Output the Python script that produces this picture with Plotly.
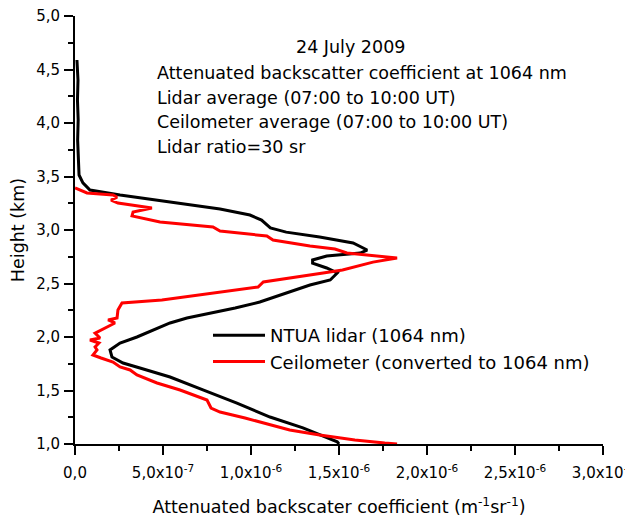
import plotly.graph_objects as go

# NTUA lidar (1064 nm): height (km) and attenuated backscatter (m^-1 sr^-1)
lidar_height = [4.589, 4.40, 4.215, 4.03, 3.84, 3.68, 3.514, 3.44, 3.374, 3.327, 3.262, 3.196,
                3.14, 3.093, 3.019, 2.98, 2.935, 2.879, 2.813, 2.785, 2.757, 2.72, 2.69, 2.645,
                2.598, 2.533, 2.486, 2.411, 2.327, 2.271, 2.224, 2.178, 2.131, 2.065, 2.0,
                1.944, 1.879, 1.813, 1.757, 1.71, 1.626, 1.505, 1.383, 1.252, 1.15, 1.02, 1.0]
lidar_beta = [0.11e-7, 0.17e-7, 0.14e-7, 0.18e-7, 0.15e-7, 0.2e-7, 0.23e-7, 0.45e-7, 0.85e-7,
              2.56e-7, 5.4e-7, 8.24e-7, 9.94e-7, 10.6e-7, 11.1e-7, 12.0e-7, 13.9e-7, 15.8e-7,
              16.6e-7, 16.2e-7, 14.3e-7, 13.5e-7, 13.5e-7, 14.3e-7, 14.9e-7, 14.5e-7, 13.35e-7,
              12.05e-7, 10.5e-7, 9.1e-7, 7.67e-7, 6.36e-7, 5.4e-7, 4.43e-7, 3.52e-7, 2.56e-7,
              1.99e-7, 2.1e-7, 2.73e-7, 3.69e-7, 5.4e-7, 7.27e-7, 9.2e-7, 11.08e-7, 12.95e-7,
              14.9e-7, 15.0e-7]

# Ceilometer (converted to 1064 nm)
ceil_height = [3.393, 3.346, 3.327, 3.308, 3.28, 3.252, 3.206, 3.168, 3.131, 3.075, 3.028,
               2.99, 2.944, 2.907, 2.85, 2.822, 2.785, 2.738, 2.7, 2.645, 2.626, 2.598, 2.514,
               2.467, 2.42, 2.393, 2.346, 2.318, 2.252, 2.178, 2.159, 2.131, 2.065, 2.037,
               1.991, 1.972, 1.944, 1.907, 1.879, 1.832, 1.804, 1.766, 1.72, 1.692, 1.645,
               1.57, 1.505, 1.411, 1.336, 1.299, 1.243, 1.187, 1.131, 1.084, 1.037, 1.009, 1.0]
ceil_beta = [0.0, 0.68e-7, 2.16e-7, 2.39e-7, 2.05e-7, 2.44e-7, 4.37e-7, 3.3e-7, 3.24e-7,
             4.83e-7, 7.84e-7, 8.24e-7, 10.9e-7, 11.25e-7, 13.35e-7, 14.77e-7, 15.45e-7,
             18.3e-7, 16.93e-7, 15.63e-7, 15.2e-7, 14.1e-7, 10.7e-7, 10.4e-7, 8.24e-7,
             7.27e-7, 4.94e-7, 2.67e-7, 2.44e-7, 2.39e-7, 1.88e-7, 2.27e-7, 1.42e-7, 1.14e-7,
             1.42e-7, 0.85e-7, 1.36e-7, 1.14e-7, 1.25e-7, 1.02e-7, 1.48e-7, 2.16e-7, 2.56e-7,
             3.13e-7, 3.52e-7, 4.66e-7, 5.97e-7, 7.5e-7, 7.73e-7, 8.24e-7, 9.66e-7, 10.9e-7,
             12.2e-7, 13.9e-7, 15.9e-7, 17.6e-7, 18.3e-7]

x_tickvals = [0, 5e-7, 1e-6, 1.5e-6, 2e-6, 2.5e-6, 3e-6]
x_ticktext = ["0,0", "5,0x10<sup>-7</sup>", "1,0x10<sup>-6</sup>", "1,5x10<sup>-6</sup>",
              "2,0x10<sup>-6</sup>", "2,5x10<sup>-6</sup>", "3,0x10<sup>-6</sup>"]
y_tickvals = [1.0, 1.5, 2.0, 2.5, 3.0, 3.5, 4.0, 4.5, 5.0]
y_ticktext = ["1,0", "1,5", "2,0", "2,5", "3,0", "3,5", "4,0", "4,5", "5,0"]

info_title = "24 July 2009"
info_lines = ["Attenuated backscatter coefficient at 1064 nm",
              "Lidar average (07:00 to 10:00 UT)",
              "Ceilometer average (07:00 to 10:00 UT)",
              "Lidar ratio=30 sr"]

FONT = "DejaVu Sans, Liberation Sans, Arial, sans-serif"
OFF = 8  # page body margin of the browser
W, H = 633 - OFF, 519 - OFF
# plot area in screenshot pixels
X0, X1, Y0, Y1 = 75, 603, 16, 444
L, T = X0 - OFF, Y0 - OFF
R, B = W - (X1 - OFF), H - (Y1 - OFF)
PW, PH = X1 - X0, Y1 - Y0


def px_x(px):
    return (px - X0) / PW


def px_y(py):
    return (Y1 - py) / PH


fig = go.Figure()
fig.add_trace(go.Scatter(x=lidar_beta, y=lidar_height, mode="lines",
                         line=dict(color="black", width=3), name="NTUA lidar (1064 nm)"))
fig.add_trace(go.Scatter(x=ceil_beta, y=ceil_height, mode="lines",
                         line=dict(color="#ff0000", width=3),
                         name="Ceilometer (converted to 1064 nm)"))

fig.update_layout(
    width=W, height=H,
    margin=dict(l=L, r=R, t=T, b=B, autoexpand=False),
    paper_bgcolor="white", plot_bgcolor="white",
    font=dict(family=FONT, size=15, color="black"),
    showlegend=True,
    legend=dict(x=px_x(208), y=px_y(317), xanchor="left", yanchor="top",
                bgcolor="rgba(0,0,0,0)", font=dict(size=18), itemwidth=52,
                tracegroupgap=0, traceorder="normal"),
    xaxis=dict(range=[0, 3e-6], tickmode="array", tickvals=x_tickvals, ticktext=x_ticktext,
               showgrid=False, zeroline=False, showline=True, linecolor="black", linewidth=2,
               ticks="outside", ticklen=9, tickwidth=1.8, tickcolor="black", automargin=False,
               ticklabelstandoff=5, ticklabeloverflow="allow",
               minor=dict(dtick=2.5e-7, ticks="outside", ticklen=5, tickwidth=1.8,
                          tickcolor="black", showgrid=False),
               title=dict(text="Attenuated backscater coefficient (m<sup>-1</sup>sr<sup>-1</sup>)",
                          font=dict(size=17.5), standoff=20),
               tickfont=dict(size=15)),
    yaxis=dict(range=[1.0, 5.0], tickmode="array", tickvals=y_tickvals, ticktext=y_ticktext,
               showgrid=False, zeroline=False, showline=True, linecolor="black", linewidth=2,
               ticks="outside", ticklen=9, tickwidth=1.8, tickcolor="black", automargin=False,
               ticklabelstandoff=1, ticklabeloverflow="allow",
               minor=dict(dtick=0.25, ticks="outside", ticklen=5, tickwidth=1.8,
                          tickcolor="black", showgrid=False),
               title=dict(text="Height (km)", font=dict(size=17.5)),
               tickfont=dict(size=15)),
)

fig.add_annotation(xref="paper", yref="paper", x=px_x(350), y=px_y(47),
                   text=info_title, showarrow=False, xanchor="center", yanchor="middle",
                   font=dict(size=17.5))
for i, line in enumerate(info_lines):
    fig.add_annotation(xref="paper", yref="paper", x=px_x(155),
                       y=px_y(73 + 24.7 * i),
                       text=line, showarrow=False, xanchor="left", yanchor="middle",
                       font=dict(size=17.5))

fig.write_html("out.html")
